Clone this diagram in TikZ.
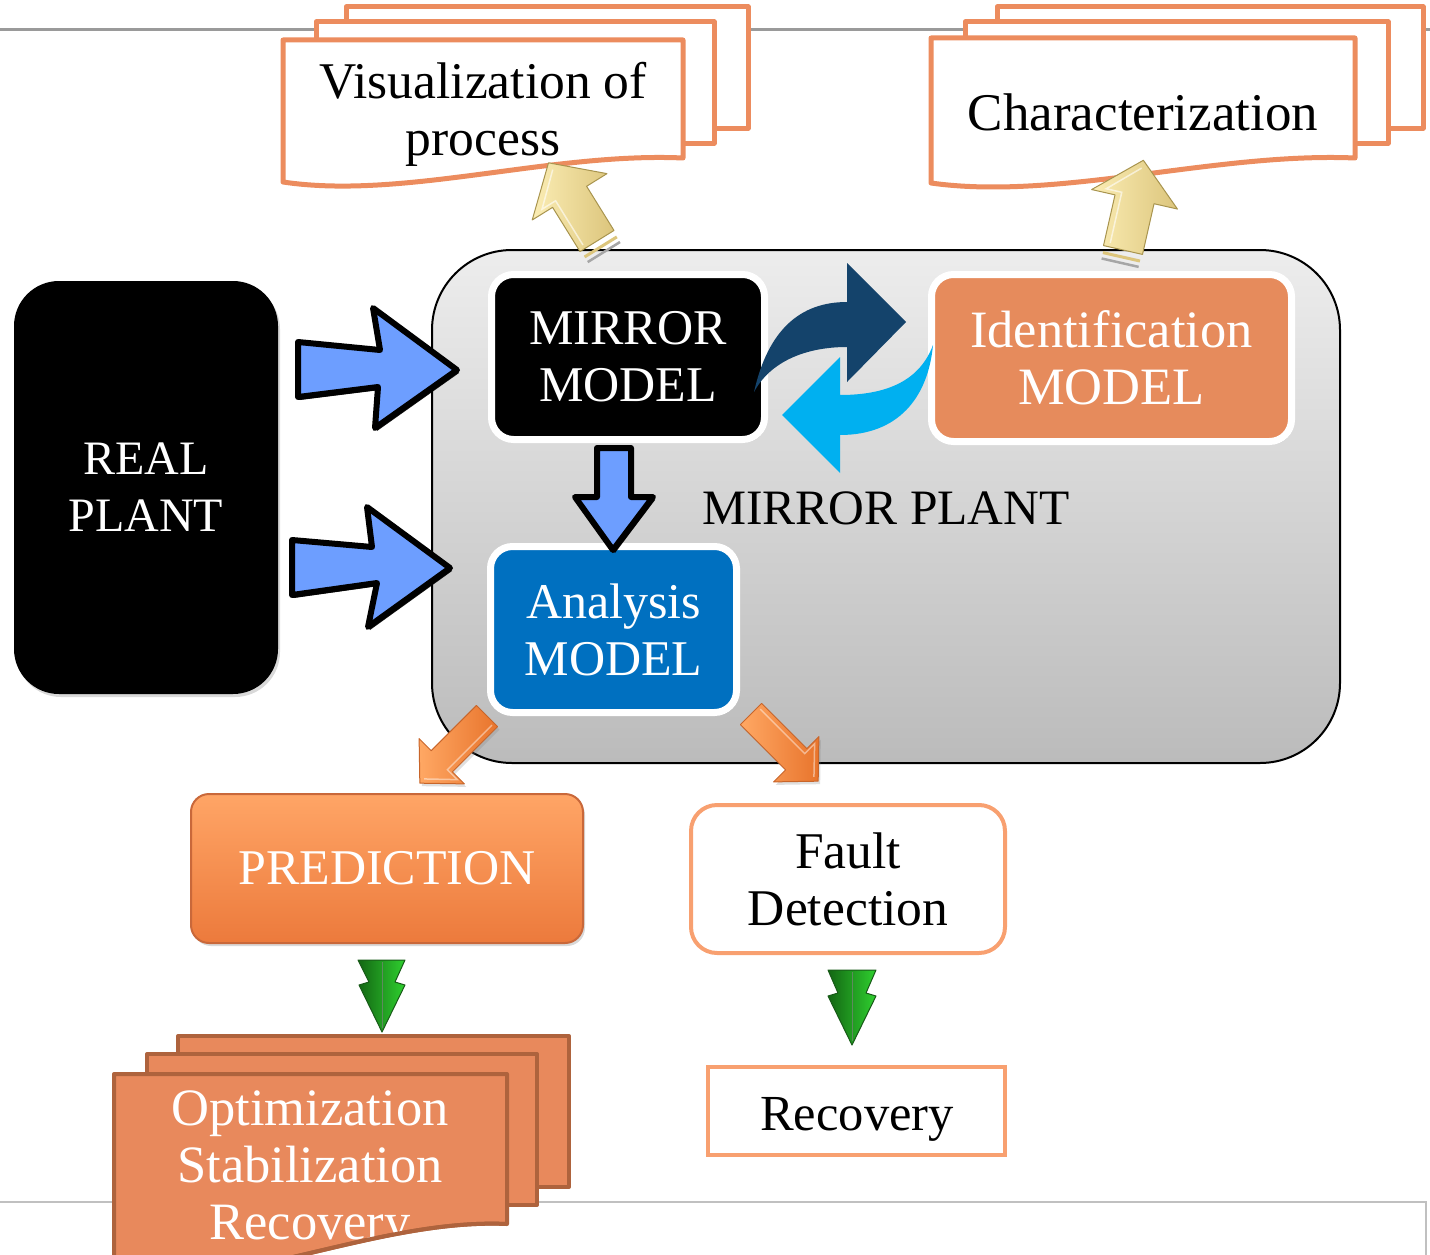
\documentclass[tikz,border=0pt]{standalone}
\usepackage{fontspec}
\setmainfont{Liberation Serif}
\usetikzlibrary{shadows}
\definecolor{docor}{HTML}{EC8C5E}
\definecolor{docfill}{HTML}{E8895C}
\definecolor{docbrown}{HTML}{AE633D}
\definecolor{idor}{HTML}{E68B5C}
\definecolor{anblue}{HTML}{0070C0}
\definecolor{arrblue}{HTML}{6D9EFF}
\definecolor{navy}{HTML}{14436B}
\definecolor{skyb}{HTML}{00B0F0}
\definecolor{topline}{HTML}{9A9A9A}
\definecolor{botline}{HTML}{C0C0C0}
\definecolor{faultor}{HTML}{F8A070}
\definecolor{yelL}{HTML}{FBEDB4}
\definecolor{yelD}{HTML}{DCC57C}
\definecolor{yelE}{HTML}{A8944E}
\definecolor{orL}{HTML}{FFA864}
\definecolor{orD}{HTML}{E8742C}
\definecolor{orE}{HTML}{C8652A}
\definecolor{grL}{HTML}{2FD02F}
\definecolor{grD}{HTML}{136613}
\definecolor{grE}{HTML}{185A18}
\definecolor{predT}{HTML}{FFA566}
\definecolor{predB}{HTML}{EC7A3C}
\definecolor{predE}{HTML}{C9683A}
\definecolor{gbT}{HTML}{EDEDED}
\definecolor{gbB}{HTML}{BBBBBB}

\newcommand\docshape[6]{\draw[#1] (#2,#3) -- (#4,#3) -- (#4,#5) .. controls ({#4-0.33*(#4-#2)},{#5-6}) and ({#2+0.3*(#4-#2)},{#6+18}) .. (#2,#6) -- cycle;}
\newcommand\yelarrow[3]{%
  \begin{scope}[shift={(#1,#2)},rotate=#3]
    \draw[line width=3pt, draw=yelD] (-19,7) -- (19,7);
    \draw[line width=2.5pt, draw=gray!70] (-19,13) -- (19,13);
    \draw[yelarr] (-20,0) -- (-20,-52) -- (-44,-52) -- (0,-92) -- (44,-52) -- (20,-52) -- (20,0) -- cycle;
    \draw[draw=white, line width=1.5pt, opacity=0.6] (-14,-4) -- (-14,-56) -- (-30,-56) -- (0,-84);
  \end{scope}}
\newcommand\orarrow[3]{%
  \begin{scope}[shift={(#1,#2)},rotate=#3]
    \draw[orarr] (-15,0) -- (-15,-64) -- (-32,-64) -- (0,-95) -- (32,-64) -- (15,-64) -- (15,0) -- cycle;
    \draw[draw=white, line width=1.5pt, opacity=0.45] (-10,-3) -- (-10,-66) -- (-24,-66) -- (0,-89);
  \end{scope}}

\begin{document}
\begin{tikzpicture}[x=1pt,y=-1pt,
  tsize/.style={font=\fontsize{#1}{57}\selectfont, align=center, inner sep=0pt},
  topdoc/.style={draw=docor, line width=5pt, fill=white, line join=round},
  botdoc/.style={draw=docbrown, line width=4pt, fill=docfill, line join=round},
  softshadow/.style={drop shadow={opacity=0.3, shadow xshift=2pt, shadow yshift=-3pt}},
  modelbox/.style={draw=white, line width=7pt, rounded corners=22pt, inner sep=0pt, softshadow},
  bluearr/.style={fill=arrblue, draw=black, line width=6pt, line join=round,
     drop shadow={opacity=0.9, shadow xshift=2pt, shadow yshift=-3pt, fill=black}},
  yelarr/.style={left color=yelL, right color=yelD, draw=yelE, line width=1pt, line join=round},
  orarr/.style={left color=orL, right color=orD, draw=orE, line width=1pt, line join=round,
     drop shadow={opacity=0.25, shadow xshift=2pt, shadow yshift=-3pt}},
  grarr/.style={left color=grD, right color=grL, draw=grE, line width=1pt, line join=round}
]
\useasboundingbox (0,0) rectangle (1430,1255);

% page lines
\draw[line width=3pt, draw=topline] (0,30) -- (1430,30);
\draw[line width=2.5pt, draw=botline] (0,1202) -- (1426,1202) -- (1426,1255);

% top-left multidocument
\draw[topdoc] (346,7) rectangle (748,128);
\draw[topdoc] (316,22) rectangle (714,143);
\docshape{topdoc}{283}{40}{683}{158}{182}
\node[tsize=51.5] (vis) at (483,114) {Visualization of\\process};

% top-right multidocument
\draw[topdoc] (997,7) rectangle (1423,128);
\draw[topdoc] (965,22) rectangle (1388,143);
\docshape{topdoc}{931}{38}{1355}{158}{183}
\node[tsize=53] (char) at (1143,112) {Characterization};

% mirror plant container
\node[draw=black, line width=2pt, rounded corners=80pt, top color=gbT, bottom color=gbB,
      minimum width=908pt, minimum height=513pt, inner sep=0pt] (mp) at (886,506.5) {};
\node[tsize=49.5] (mptext) at (886,508) {MIRROR PLANT};

% real plant
\node[fill=black, rounded corners=45pt, minimum width=264pt, minimum height=413pt,
      text=white, tsize=48, softshadow] (real) at (146,487.5) {REAL\\PLANT};

% model boxes
\node[modelbox, fill=black, text=white, tsize=50, minimum width=273pt, minimum height=165pt]
  (mirror) at (628,357) {MIRROR\\MODEL};
\node[modelbox, fill=idor, text=white, tsize=52.5, minimum width=360pt, minimum height=167pt]
  (ident) at (1111.5,358) {Identification\\MODEL};
\node[modelbox, fill=anblue, text=white, tsize=50, minimum width=246pt, minimum height=166pt]
  (anal) at (613.5,629.5) {Analysis\\MODEL};

% prediction
\node[top color=predT, bottom color=predB, draw=predE, line width=2pt, rounded corners=18pt,
      minimum width=392pt, minimum height=149pt, text=white, tsize=50, softshadow]
  (pred) at (387,868.5) {PREDICTION};

% fault detection
\node[draw=faultor, line width=4pt, fill=white, rounded corners=26pt,
      minimum width=314pt, minimum height=148pt, tsize=51.5] (fault) at (848,879) {Fault\\Detection};

% recovery
\node[draw=faultor, line width=4pt, fill=white, minimum width=297pt, minimum height=88pt,
      inner sep=0pt] (recbox) at (856.5,1111) {};
\node[tsize=50.5] (rec) at (857,1119) {Recovery};

% bottom-left multidocument
\draw[botdoc] (178,1036) rectangle (569,1187);
\draw[botdoc] (147,1054) rectangle (537,1205);
\docshape{botdoc}{114}{1074}{507}{1224}{1275}
\begin{scope}
  \clip (114,1074) -- (507,1074) -- (507,1224) .. controls (377,1218) and (232,1293) .. (114,1275) -- cycle;
  \node[tsize=52.5, text=white] (opt) at (310,1171) {Optimization\\Stabilization\\Recovery};
\end{scope}
\draw[draw=docbrown, line width=4pt] (507,1224) .. controls (377,1218) and (232,1293) .. (114,1275);

% blue input arrows
\draw[bluearr] (298,342) -- (380,350) -- (373,308) -- (457,370) -- (375,428) -- (378,387) -- (298,397) -- cycle;
\draw[bluearr] (292,540) -- (372,547) -- (367,507) -- (450,568) -- (368,627) -- (377,583) -- (292,595) -- cycle;
\draw[bluearr] (597,448) -- (631,448) -- (631,497) -- (653,497) -- (613,550) -- (575,497) -- (597,497) -- cycle;

% curved exchange arrows
\fill[navy] (754,392) .. controls (768,330) and (800,302) .. (847,302) -- (847,263) -- (906,322)
  -- (847,382) -- (847,347) .. controls (805,347) and (770,362) .. (754,392) -- cycle;
\fill[skyb] (933,345) .. controls (920,380) and (888,395) .. (840,395) -- (840,357) -- (782,415)
  -- (840,473) -- (840,435) .. controls (898,435) and (928,398) .. (933,345) -- cycle;

% yellow output arrows
\yelarrow{597}{241}{31.8}
\yelarrow{1123}{250}{-12.8}

% orange output arrows
\orarrow{487}{716}{135}
\orarrow{751}{714}{-135}

% green arrows
\draw[grarr] (358,960) -- (405,960) -- (395,982) -- (405,985) -- (382,1032) -- (359,985) -- (369,982) -- cycle;
\draw[grE!70, line width=0.8pt] (382,962) -- (382,1028);
\draw[grarr] (828,970) -- (876,970) -- (866,993) -- (876,996) -- (852,1045) -- (828,996) -- (838,993) -- cycle;
\draw[grE!70, line width=0.8pt] (852,972) -- (852,1041);
\end{tikzpicture}
\end{document}
